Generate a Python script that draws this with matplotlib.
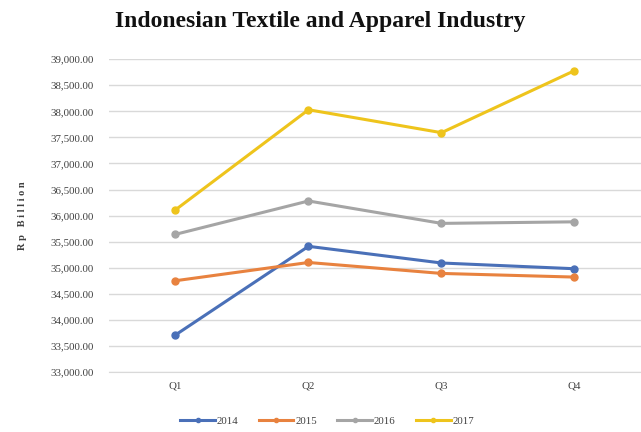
import matplotlib
matplotlib.use("Agg")
import matplotlib.pyplot as plt
from matplotlib.ticker import FuncFormatter, MultipleLocator

quarters = ["Q1", "Q2", "Q3", "Q4"]
years = ["2014", "2015", "2016", "2017"]
v2014 = [33710, 35410, 35090, 34980]
v2015 = [34750, 35100, 34890, 34820]
v2016 = [35640, 36280, 35850, 35880]
v2017 = [36110, 38030, 37590, 38780]
series = [v2014, v2015, v2016, v2017]
colors = ["#4A70B8", "#E8823F", "#A5A5A5", "#EEC41C"]

plt.rcParams['font.family'] = ['Liberation Serif', 'DejaVu Serif']

fig = plt.figure(figsize=(6.41, 4.32), dpi=100)
ax = fig.add_axes([0.170, 0.139, 0.83, 0.724])

x = list(range(len(quarters)))
for name, vals, c in zip(years, series, colors):
    ax.plot(x, vals, color=c, lw=2.2, marker='o', ms=5, label=name,
            solid_joinstyle='round')

ax.set_xlim(-0.5, 3.5)
ax.set_ylim(33000, 39000)
ax.yaxis.set_major_locator(MultipleLocator(500))
ax.yaxis.set_major_formatter(FuncFormatter(lambda v, p: f"{v:,.2f}"))
ax.set_xticks(x)
ax.set_xticklabels(quarters)
ax.grid(axis='y', color='#D9D9D9', lw=1)
ax.set_axisbelow(True)
for s in ['top', 'right', 'left']:
    ax.spines[s].set_visible(False)
ax.spines['bottom'].set_color('#D9D9D9')
ax.tick_params(axis='both', length=0, labelsize=7.8, colors='#404040')
ax.tick_params(axis='y', pad=11)
ax.tick_params(axis='x', pad=7)

ax.set_ylabel("R p   B i l l i o n", fontsize=7.5, fontweight='bold', color='#404040', labelpad=17)

fig.suptitle("Indonesian Textile and Apparel Industry", x=0.5, y=0.975,
             fontsize=17, fontweight='bold', color='#111111')

leg = ax.legend(loc='upper center', bbox_to_anchor=(0.41, -0.11), ncol=4,
                frameon=False, fontsize=7.8, handlelength=3.2, columnspacing=1.9,
                handletextpad=0.15, markerscale=0.6)
for t in leg.get_texts():
    t.set_color('#404040')

fig.savefig("out.png", dpi=100)
